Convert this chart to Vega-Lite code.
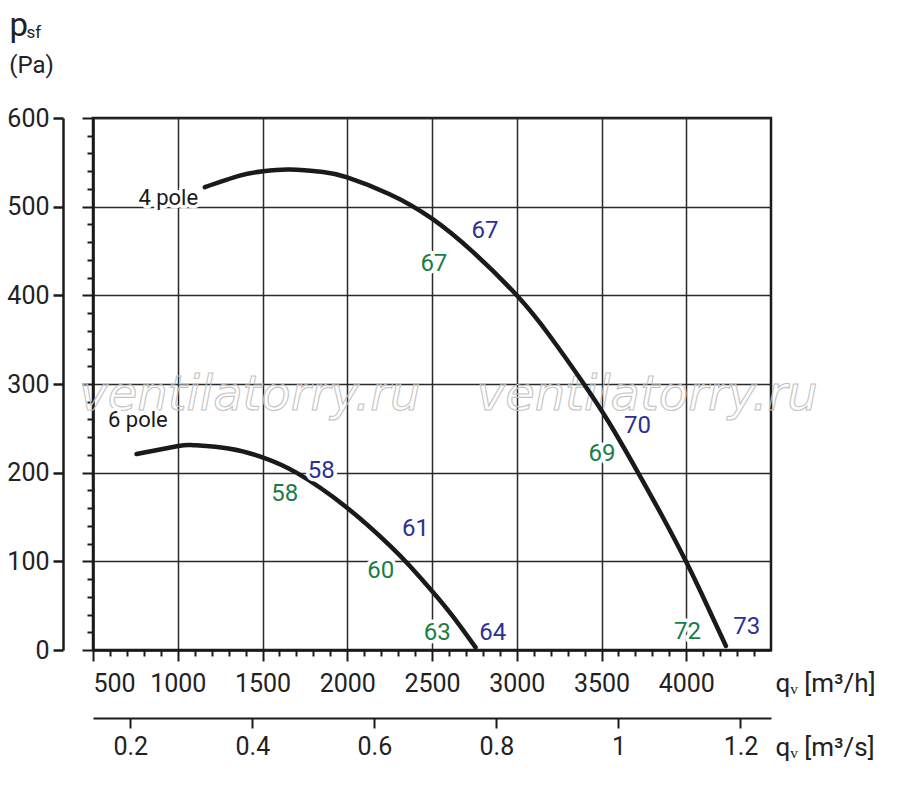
{
  "$schema": "https://vega.github.io/schema/vega-lite/v6.json",
  "width": 678,
  "height": 532,
  "autosize": {"type": "none"},
  "padding": {"left": 93, "top": 118, "right": 129, "bottom": 136},
  "background": "white",
  "config": {
    "view": {"stroke": "#1a1a1a", "strokeWidth": 2.5},
    "font": "Roboto",
    "axis": {
      "labelFont": "Roboto",
      "titleFont": "Roboto",
      "labelColor": "#222222",
      "titleColor": "#222222",
      "titleFontWeight": "normal",
      "domainColor": "#1a1a1a",
      "tickColor": "#1a1a1a",
      "gridColor": "#2a2a2a",
      "labelOverlap": false,
      "labelBound": false
    }
  },
  "datasets": {
    "curves": [
      {"pole": "4 pole", "q": 1160, "p": 522},
      {"pole": "4 pole", "q": 1366, "p": 535},
      {"pole": "4 pole", "q": 1504, "p": 540},
      {"pole": "4 pole", "q": 1661, "p": 542},
      {"pole": "4 pole", "q": 1857, "p": 539},
      {"pole": "4 pole", "q": 2000, "p": 533},
      {"pole": "4 pole", "q": 2250, "p": 514},
      {"pole": "4 pole", "q": 2496, "p": 487},
      {"pole": "4 pole", "q": 2741, "p": 449},
      {"pole": "4 pole", "q": 3000, "p": 400},
      {"pole": "4 pole", "q": 3192, "p": 355},
      {"pole": "4 pole", "q": 3389, "p": 302},
      {"pole": "4 pole", "q": 3546, "p": 256},
      {"pole": "4 pole", "q": 3713, "p": 201},
      {"pole": "4 pole", "q": 3861, "p": 150},
      {"pole": "4 pole", "q": 3998, "p": 100},
      {"pole": "4 pole", "q": 4116, "p": 53},
      {"pole": "4 pole", "q": 4234, "p": 4.5},
      {"pole": "6 pole", "q": 757, "p": 221},
      {"pole": "6 pole", "q": 1003, "p": 230},
      {"pole": "6 pole", "q": 1091, "p": 231},
      {"pole": "6 pole", "q": 1307, "p": 227},
      {"pole": "6 pole", "q": 1504, "p": 217},
      {"pole": "6 pole", "q": 1700, "p": 200},
      {"pole": "6 pole", "q": 1995, "p": 161},
      {"pole": "6 pole", "q": 2250, "p": 118},
      {"pole": "6 pole", "q": 2368, "p": 95},
      {"pole": "6 pole", "q": 2496, "p": 67.5},
      {"pole": "6 pole", "q": 2623, "p": 38},
      {"pole": "6 pole", "q": 2757, "p": 3}
    ],
    "labels": [
      {"q": 944, "p": 510, "text": "4 pole", "kind": "pole"},
      {"q": 765, "p": 259, "text": "6 pole", "kind": "pole"},
      {"q": 2813, "p": 473, "text": "67", "kind": "blue"},
      {"q": 2511, "p": 435, "text": "67", "kind": "green"},
      {"q": 1847, "p": 202, "text": "58", "kind": "blue"},
      {"q": 1631, "p": 176, "text": "58", "kind": "green"},
      {"q": 2403, "p": 136, "text": "61", "kind": "blue"},
      {"q": 2197, "p": 89, "text": "60", "kind": "green"},
      {"q": 2531, "p": 19.5, "text": "63", "kind": "green"},
      {"q": 2859, "p": 19.5, "text": "64", "kind": "blue"},
      {"q": 3713, "p": 253, "text": "70", "kind": "blue"},
      {"q": 3503, "p": 221, "text": "69", "kind": "green"},
      {"q": 4008, "p": 20.6, "text": "72", "kind": "green"},
      {"q": 4357, "p": 26, "text": "73", "kind": "blue"}
    ],
    "watermark": [
      {"q": 1425, "p": 287, "text": "ventilatorry.ru"},
      {"q": 3770, "p": 287, "text": "ventilatorry.ru"}
    ]
  },
  "resolve": {"axis": {"x": "independent", "y": "independent"}},
  "layer": [
    {
      "data": {"name": "watermark"},
      "mark": {
        "type": "text",
        "font": "DejaVu Sans",
        "fontStyle": "italic",
        "fontSize": 48,
        "baseline": "middle",
        "fillOpacity": 0,
        "stroke": "#c4c4c4",
        "strokeWidth": 1.1
      },
      "encoding": {
        "x": {
          "field": "q",
          "type": "quantitative",
          "scale": {"domain": [500, 4500], "nice": false, "zero": false},
          "axis": {
            "orient": "bottom",
            "offset": 68,
            "values": [720, 1440, 2160, 2880, 3600, 4320],
            "labelExpr": "format(datum.value / 3600, '.1~f')",
            "labelFontSize": 25,
            "labelPadding": 6,
            "tickSize": 10,
            "tickWidth": 2,
            "domainWidth": 2,
            "grid": false,
            "title": "qᵥ [m³/s]",
            "titleFontSize": 26,
            "titleAlign": "left",
            "titleBaseline": "middle",
            "titleX": 682,
            "titleY": 29
          }
        },
        "y": {
          "field": "p",
          "type": "quantitative",
          "scale": {"domain": [0, 600], "nice": false},
          "axis": {
            "orient": "left",
            "domain": false,
            "ticks": false,
            "labels": false,
            "grid": false,
            "title": "sf",
            "titleFontSize": 17,
            "titleAngle": 0,
            "titleAlign": "left",
            "titleBaseline": "alphabetic",
            "titleX": -67,
            "titleY": -81
          }
        },
        "text": {"field": "text"}
      }
    },
    {
      "data": {"name": "curves"},
      "mark": {"type": "line", "interpolate": "natural", "strokeWidth": 4.5, "strokeCap": "round", "color": "#1a1a1a"},
      "encoding": {
        "x": {
          "field": "q",
          "type": "quantitative",
          "axis": {
            "orient": "bottom",
            "values": [500, 600, 700, 800, 900, 1000, 1100, 1200, 1300, 1400, 1500, 1600, 1700, 1800, 1900, 2000, 2100, 2200, 2300, 2400, 2500, 2600, 2700, 2800, 2900, 3000, 3100, 3200, 3300, 3400, 3500, 3600, 3700, 3800, 3900, 4000, 4100, 4200, 4300, 4400],
            "format": "d",
            "labelExpr": "datum.value % 500 === 0 ? datum.label : ''",
            "labelFontSize": 25,
            "labelPadding": 10,
            "tickSize": {"condition": {"test": "datum.value % 500 === 0", "value": 11}, "value": 6},
            "tickWidth": 2,
            "domainWidth": 2.5,
            "grid": true,
            "gridWidth": 1.5,
            "gridOpacity": {"condition": {"test": "datum.value % 500 === 0", "value": 1}, "value": 0},
            "title": "qᵥ [m³/h]",
            "titleFontSize": 26,
            "titleAlign": "left",
            "titleBaseline": "middle",
            "titleX": 682,
            "titleY": 33
          }
        },
        "y": {
          "field": "p",
          "type": "quantitative",
          "axis": {
            "orient": "left",
            "offset": 30,
            "values": [0, 100, 200, 300, 400, 500, 600],
            "labelFontSize": 25,
            "labelPadding": 4,
            "tickSize": 10,
            "tickWidth": 2.5,
            "domainWidth": 2.5,
            "grid": false,
            "title": "(Pa)",
            "titleFontSize": 24,
            "titleAngle": 0,
            "titleAlign": "center",
            "titleBaseline": "alphabetic",
            "titleX": -32,
            "titleY": -46
          }
        },
        "detail": {"field": "pole"}
      }
    },
    {
      "data": {"name": "labels"},
      "mark": {"type": "text", "baseline": "middle", "stroke": "white", "strokeWidth": 7, "strokeJoin": "round", "fill": "white"},
      "encoding": {
        "x": {"field": "q", "type": "quantitative", "axis": null},
        "y": {
          "field": "p",
          "type": "quantitative",
          "axis": {
            "orient": "left",
            "values": [0, 20, 40, 60, 80, 100, 120, 140, 160, 180, 200, 220, 240, 260, 280, 300, 320, 340, 360, 380, 400, 420, 440, 460, 480, 500, 520, 540, 560, 580, 600],
            "labels": false,
            "tickSize": {"condition": {"test": "datum.value % 100 === 0", "value": 11}, "value": 6},
            "tickWidth": 2,
            "domainWidth": 2.5,
            "grid": true,
            "gridWidth": 1.5,
            "gridOpacity": {"condition": {"test": "datum.value % 100 === 0", "value": 1}, "value": 0},
            "title": "p",
            "titleFontSize": 33,
            "titleAngle": 0,
            "titleAlign": "left",
            "titleBaseline": "alphabetic",
            "titleX": -84,
            "titleY": -83
          }
        },
        "size": {"condition": {"test": "datum.kind === 'pole'", "value": 22}, "value": 24},
        "text": {"field": "text"}
      }
    },
    {
      "data": {"name": "labels"},
      "mark": {"type": "text", "baseline": "middle"},
      "encoding": {
        "x": {"field": "q", "type": "quantitative", "axis": null},
        "y": {"field": "p", "type": "quantitative", "axis": null},
        "size": {"condition": {"test": "datum.kind === 'pole'", "value": 22}, "value": 24},
        "color": {
          "field": "kind",
          "type": "nominal",
          "scale": {"domain": ["pole", "green", "blue"], "range": ["#1a1a1a", "#1b7d45", "#2b3196"]},
          "legend": null
        },
        "text": {"field": "text"}
      }
    }
  ]
}
